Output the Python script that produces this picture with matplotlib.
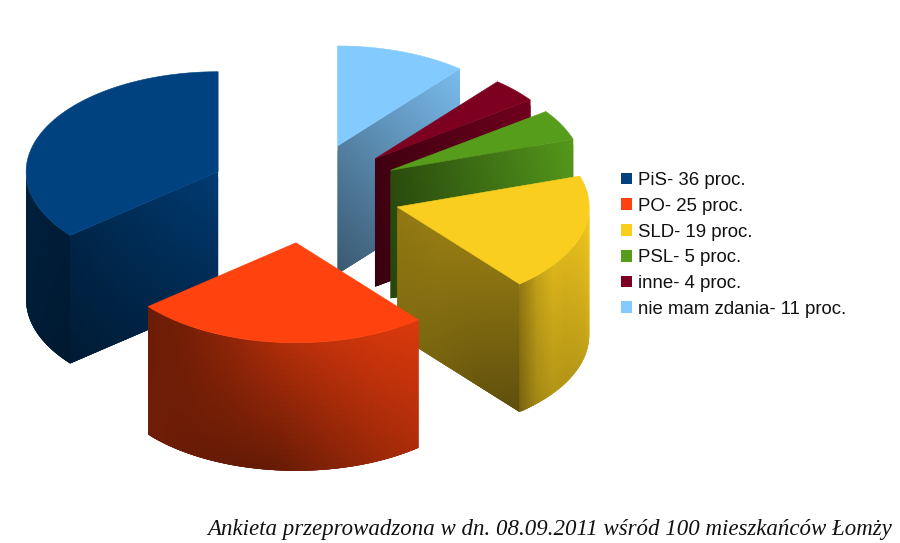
import numpy as np
import matplotlib
matplotlib.use("Agg")
import matplotlib.pyplot as plt
from matplotlib.collections import PolyCollection
from matplotlib.colors import to_rgb
from matplotlib.patches import Patch, Polygon

parties = ["PiS", "PO", "SLD", "PSL", "inne", "nie mam zdania"]
percent = [36, 25, 19, 5, 4, 11]
colors = ["#004280", "#ff420e", "#f9ce1f", "#579d1c", "#7e0021", "#83caff"]
caption = "Ankieta przeprowadzona w dn. 08.09.2011 wśród 100 mieszkańców Łomży"

# projected pie geometry
CX, CY, RX, RY, DEPTH, EXPLODE = 305, 193, 192, 100, 128, 0.5
START = 90.0

fig = plt.figure(figsize=(9, 5.43), dpi=100, facecolor="white")
ax = fig.add_axes([0, 0, 1, 1])
ax.set_xlim(0, 900)
ax.set_ylim(543, 0)
ax.axis("off")

vals = np.array(percent, float)
edges = START + np.concatenate([[0], np.cumsum(vals)]) / vals.sum() * 360
apex = []
for a0, a1 in zip(edges[:-1], edges[1:]):
    m = np.radians((a0 + a1) / 2)
    apex.append((CX + RX * EXPLODE * np.cos(m), CY - RY * EXPLODE * np.sin(m)))


def rim(c, ang):
    r = np.radians(ang)
    return c[0] + RX * np.cos(r), c[1] - RY * np.sin(r)


def wall(xs, ys, base, top_k, bot_k, z):
    """Shaded wall hanging DEPTH below the top line xs, ys; top_k/bot_k are
    brightness knots spaced along the wall."""
    n = len(xs)
    t = np.linspace(0, 1, n)
    kt = np.interp(t, np.linspace(0, 1, len(top_k)), top_k)
    kb = np.interp(t, np.linspace(0, 1, len(bot_k)), bot_k)
    rows = 24
    polys, cols = [], []
    base = np.array(to_rgb(base))
    for i in range(n - 1):
        i2 = min(i + 2, n - 1)  # overlap the next column so no seams show
        for j in range(rows):
            v0, v1 = j / rows * DEPTH, min((j + 2) / rows, 1) * DEPTH
            polys.append([(xs[i], ys[i] + v0), (xs[i2], ys[i2] + v0),
                          (xs[i2], ys[i2] + v1), (xs[i], ys[i] + v1)])
            vm = (j + .5) / rows
            cols.append(np.clip(base * ((1 - vm) * (kt[i] + kt[i + 1]) / 2 + vm * (kb[i] + kb[i + 1]) / 2), 0, 1))
    ax.add_collection(PolyCollection(polys, facecolors=cols, edgecolors="none",
                                     linewidths=0, zorder=z))


def radial(idx, angle, base, top_k, bot_k, z):
    c = apex[idx]
    p = rim(c, angle)
    xs = np.linspace(c[0], p[0], 50)
    ys = np.linspace(c[1], p[1], 50)
    wall(xs, ys, base, top_k, bot_k, z)


def arc_wall(idx, a0, a1, base, top_k, bot_k, z):
    c = apex[idx]
    ang = np.linspace(a0, a1, 70)
    xs, ys = rim(c, ang)
    wall(xs, ys, base, top_k, bot_k, z)


def face(idx, z):
    c = apex[idx]
    ang = np.linspace(edges[idx], edges[idx + 1], 120)
    xs, ys = rim(c, ang)
    pts = np.vstack([[c], np.column_stack([xs, ys])])
    ax.add_patch(Polygon(pts, closed=True, facecolor=colors[idx], edgecolor=colors[idx],
                         linewidth=0.4, zorder=z))


# back-to-front painting order: PiS, nie mam zdania, inne, PSL, SLD, PO
# PiS
arc_wall(0, 180, edges[1], colors[0], [.50, .46, .42], [.46, .42, .38], 1)
radial(0, edges[1], colors[0], [.90, .72, .55], [.64, .52, .40], 1.1)
face(0, 1.2)
# nie mam zdania
radial(5, edges[5], colors[5], [.62, .78, .93], [.44, .58, .75], 2)
face(5, 2.1)
# inne
radial(4, edges[4], colors[4], [.50, .68, .90], [.46, .60, .80], 3)
face(4, 3.1)
# PSL
radial(3, edges[3], colors[3], [.48, .72, .97], [.44, .64, .88], 4)
face(3, 4.1)
# SLD
radial(2, edges[2], colors[2], [.58, .60, .58, .55], [.52, .48, .42, .38], 5)
arc_wall(2, edges[2], 360, colors[2],
         [.58, .78, .88, .88, .90, .93, .97, .98],
         [.48, .66, .72, .72, .74, .76, .80, .82], 5.1)
face(2, 5.2)
# PO
arc_wall(1, edges[1], edges[2], colors[1],
         [.42, .46, .56, .68, .76, .82, .86],
         [.44, .42, .40, .40, .50, .60, .68], 6)
face(1, 6.1)

handles = [Patch(facecolor=c, edgecolor="none") for c in colors]
labels = [f"{p}- {v} proc." for p, v in zip(parties, percent)]
ax.legend(handles, labels, loc="upper left", bbox_to_anchor=(616 / 900, 1 - 167 / 543),
          frameon=False, labelspacing=0.467, handlelength=0.59,
          handleheight=0.59, handletextpad=0.3, borderpad=0.28, borderaxespad=0,
          prop={"family": "Liberation Sans", "size": 13.4}, labelcolor="#111111")

ax.text(892, 530, caption, ha="right", va="center", family="Liberation Serif",
        style="italic", fontsize=16.5, color="#111111")

fig.savefig("out.png", dpi=100, facecolor="white")
